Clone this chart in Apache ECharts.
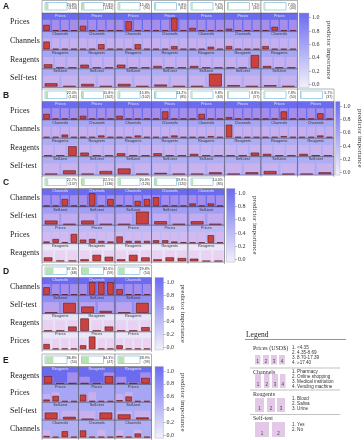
<!DOCTYPE html>
<html><head><meta charset="utf-8">
<script src="https://cdn.jsdelivr.net/npm/echarts@6/dist/echarts.min.js"></script>
<style>html,body{margin:0;padding:0;background:#fff}#c{width:364px;height:440px}</style>
</head><body><div id="c"></div>
<script>
// ================= DATA =================
const colorbarTicks = [0, 0.2, 0.4, 0.6, 0.8, 1.0];

// Panel A
const A_pct = ["24.8%","21.8%","15.4%","9.8%","9.7%","7.2%","7.0%"];
const A_n = [153,135,95,61,60,45,43];
const A_sizeFill = [0.14,0.12,0.09,0.06,0.06,0.045,0.04];
const A_rows = ["Prices","Channels","Reagents","Self-test"];
const A_importance = [1.0,0.55,0.55,0.5];
const A_overall = [[.85,.85,.85,.85],[.85,.85,.85,.85],[.85,.85,.85],[.85,.85]];
const A_prices = [[.45,.03,.03,.03],[.38,.03,.03,.03],[.03,.75,.03,.03],[.03,.03,1.0,.03],[.22,.03,.03,.03],[.15,.03,.03,.03],[.03,.3,.03,.03]];
const A_channels = [[.6,.03,.03,.03],[.03,.03,.4,.03],[.03,.03,.4,.03],[.03,.03,.25,.03],[.03,.03,.2,.03],[.25,.03,.03,.03],[.25,.03,.03,.03]];
const A_reagents = [[.28,.03,.03],[.25,.03,.03],[.25,.03,.03],[.15,.03,.03],[.15,.03,.03],[.03,.03,1.0],[.15,.03,.03]];
const A_selftest = [[.25,.03],[.2,.03],[.2,.03],[.15,.03],[.03,1.0],[.1,.03],[.1,.03]];

// Panel B
const B_pct = ["22.0%","15.8%","15.8%","13.2%","9.8%","8.8%","7.8%","5.7%"];
const B_n = [142,102,102,85,63,57,50,37];
const B_sizeFill = [0.12,0.09,0.09,0.07,0.05,0.05,0.04,0.03];
const B_rows = ["Prices","Channels","Reagents","Self-test"];
const B_importance = [1.0,0.55,0.5,0.5];
const B_overall = [[.85,.85,.85,.85],[.85,.85,.85,.85],[.85,.85,.85],[.85,.85]];
const B_prices = [[.4,.03,.03,.03],[.25,.03,.03,.03],[.25,.03,.03,.03],[.03,.6,.03,.03],[.03,.4,.03,.03],[.15,.03,.03,.03],[.03,.03,.6,.03],[.03,.03,.45,.03]];
const B_channels = [[.03,.03,.22,.03],[.03,.03,.15,.03],[.03,.03,.15,.03],[.03,.03,.15,.03],[.03,.03,.1,.03],[1.0,.03,.03,.03],[.03,.03,.1,.03],[.03,.03,.15,.03]];
const B_reagents = [[.03,.03,.75],[.25,.03,.03],[.2,.03,.03],[.2,.03,.03],[.15,.03,.03],[.03,.03,.25],[.15,.03,.03],[.15,.03,.03]];
const B_selftest = [[.03,.3],[.03,.25],[.45,.03],[.1,.03],[.03,.15],[.03,.15],[.25,.03],[.03,.15]];

// Panel C
const C_pct = ["22.7%","22.5%","20.8%","19.8%","14.0%"];
const C_n = [137,136,126,120,85];
const C_sizeFill = [0.13,0.13,0.12,0.11,0.08];
const C_rows = ["Channels","Self-test","Prices","Reagents"];
const C_importance = [1.0,0.6,0.4,0.05];
const C_overall = [[.85,.85,.85,.85],[.85,.85],[.85,.85,.85,.85],[.85,.85,.85]];
const C_channels = [[.03,.03,.55,.03],[.03,1.0,.03,.55],[.08,.03,.4,.55],[.7,.03,.03,.03],[.2,.03,.2,.03]];
const C_selftest = [[.3,.03],[.3,.03],[.03,1.0],[.25,.03],[.25,.03]];
const C_prices = [[.1,.3,.05,.7],[.25,.3,.15,.1],[.5,.15,.15,.15],[.2,.2,.1,.05],[.03,.03,.6,.03]];
const C_reagents = [[.3,.05,.05],[.15,.5,.35],[.15,.5,.3],[.15,.3,.25],[.2,.03,.03]];

// Panel D
const D_pct = ["37.6%","32.6%","29.8%"];
const D_n = [68,59,54];
const D_sizeFill = [0.38,0.33,0.3];
const D_rows = ["Channels","Self-test","Reagents","Prices"];
const D_importance = [1.0,0.72,0.08,0.05];
const D_overall = [[.85,.85,.85,.85],[.85,.85],[.85,.85,.85],[.85,.85,.85,.85]];
const D_channels = [[.6,.03,.03,.03],[.03,1.0,1.0,1.0],[.45,.03,.03,.03]];
const D_selftest = [[.03,.8],[.5,.15],[.03,.8]];
const D_reagents = [[.03,.03,.35],[1.0,.03,.35],[.03,.03,.3]];
const D_prices = [[.4,.03,.03,.03],[.3,1.0,.03,.03],[.3,.03,.03,.03]];

// Panel E
const E_pct = ["36.8%","34.3%","28.9%"];
const E_n = [50,47,39];
const E_sizeFill = [0.38,0.33,0.28];
const E_rows = ["Reagents","Prices","Self-test","Channels"];
const E_importance = [1.0,0.55,0.52,0.48];
const E_overall = [[.55,.1,.9],[.6,.75,.1,.1],[.7,.7],[.55,.1,.6,.1]];
const E_reagents = [[.6,.03,.03],[.03,.03,.6],[.03,.03,.45]];
const E_prices = [[.15,.45,.03,.03],[.55,.03,.03,.03],[.1,.4,.03,.03]];
const E_selftest = [[.55,.2],[.03,.55],[.4,.15]];
const E_channels = [[.1,.03,.5,.03],[.55,.03,.03,.03],[.1,.03,.3,.03]];

// Legend
const legendSections = ["Prices (USD$)","Channels","Reagents","Self-test"];
const legendPrices = ["1. <4.35","2. 4.35-8.69","3. 8.70-17.39","4. \u226517.40"];
const legendChannels = ["1. Pharmacy","2. Online shopping","3. Medical institution","4. Vending machine"];
const legendReagents = ["1. Blood","2. Saliva","3. Urine"];
const legendSelftest = ["1. Yes","2. No"];

// ================= LAYOUT / BUILD =================
const panels = [
  {letter:'A', pct:A_pct, n:A_n, fill:A_sizeFill, rows:A_rows, imp:A_importance, overall:A_overall, vals:[A_prices,A_channels,A_reagents,A_selftest]},
  {letter:'B', pct:B_pct, n:B_n, fill:B_sizeFill, rows:B_rows, imp:B_importance, overall:B_overall, vals:[B_prices,B_channels,B_reagents,B_selftest]},
  {letter:'C', pct:C_pct, n:C_n, fill:C_sizeFill, rows:C_rows, imp:C_importance, overall:C_overall, vals:[C_channels,C_selftest,C_prices,C_reagents]},
  {letter:'D', pct:D_pct, n:D_n, fill:D_sizeFill, rows:D_rows, imp:D_importance, overall:D_overall, vals:[D_channels,D_selftest,D_reagents,D_prices]},
  {letter:'E', pct:E_pct, n:E_n, fill:E_sizeFill, rows:E_rows, imp:E_importance, overall:E_overall, vals:[E_reagents,E_prices,E_selftest,E_channels]}
];
const geom = {
  A:{rTop:13, rH:18.6, cbX:299, cbW:10},
  B:{rTop:101.5, rH:18.4, cbX:335.5, cbW:9},
  C:{rTop:188.5, rH:18.4, cbX:226.5, cbW:8.5},
  D:{rTop:277.5, rH:18.1, cbX:155, cbW:8.5},
  E:{rTop:366.5, rH:17.9, cbX:155, cbW:8.5}
};
const X0 = 42, COLW = 36.5;

function impColor(t){
  const a=[241,238,249], b=[107,107,239];
  return 'rgb('+a.map((v,i)=>Math.round(v+(b[i]-v)*t)).join(',')+')';
}

const option = {animation:false, grid:[], xAxis:[], yAxis:[], series:[], graphic:{elements:[]}};
const G = option.graphic.elements;
function txt(x,y,text,size,o){
  o=o||{};
  G.push({type:'text', x:x, y:y, z:o.z||50, silent:true, style:{text:text, fontSize:size,
    fontFamily:o.family||'Liberation Sans', fontWeight:o.weight||'normal', fill:o.fill||'#222',
    align:o.align||'left', verticalAlign:o.va||'middle', textAlign:o.align||'left', textVerticalAlign:o.va||'middle'}});
}
function rect(x,y,w,h,fill,stroke,lw,z){
  G.push({type:'rect', z:z||10, silent:true, shape:{x:x,y:y,width:w,height:h}, style:{fill:fill, stroke:stroke||null, lineWidth:lw||0}});
}
function line(x1,y1,x2,y2,stroke,lw,z){
  G.push({type:'line', z:z||10, silent:true, shape:{x1:x1,y1:y1,x2:x2,y2:y2}, style:{stroke:stroke, lineWidth:lw||0.6}});
}

function addCell(left, top, w, h, bg, overall, vals){
  const gi = option.grid.length;
  option.grid.push({left:left, top:top, width:w, height:h, show:true, backgroundColor:bg, borderColor:'#55556a', borderWidth:0.6});
  const cats = overall.map((_,i)=>String(i+1));
  const xi = option.xAxis.length;
  option.xAxis.push({type:'category', gridIndex:gi, data:cats, show:false});
  option.xAxis.push({type:'category', gridIndex:gi, data:cats, show:false});
  const yi = option.yAxis.length;
  option.yAxis.push({type:'value', gridIndex:gi, min:-0.07, max:1.38, show:false, splitLine:{show:false}});
  option.series.push({type:'bar', xAxisIndex:xi, yAxisIndex:yi, data:overall, barWidth:'86%', silent:true,
    itemStyle:{color:'rgba(236,186,232,0.45)'}});
  option.series.push({type:'bar', xAxisIndex:xi+1, yAxisIndex:yi, data:vals, barWidth:'70%', silent:true,
    itemStyle:{color:'#c9423f', borderColor:'#5e1616', borderWidth:0.6}});
}

panels.forEach(p=>{
  const g = geom[p.letter];
  const ncol = p.pct.length;
  const hTop = g.rTop - 12.5;
  txt(3, hTop+6.5, p.letter, 8.5, {weight:'bold', family:'Liberation Sans'});
  for(let c=0;c<ncol;c++){
    const cx = X0 + c*COLW;
    rect(cx, hTop, COLW, 12.5, '#ffffff', '#666', 0.5, 5);
    rect(cx+3, hTop+2, 22, 7.5, '#ffffff', '#8ec5e0', 0.8, 11);
    rect(cx+3.5, hTop+2.5, 21*p.fill[c], 6.5, '#b9e2b3', null, 0, 12);
    txt(cx+35, hTop+4, p.pct[c], 3.6, {align:'right', fill:'#333'});
    txt(cx+35, hTop+7.8, '('+p.n[c]+')', 3.6, {align:'right', fill:'#333'});
  }
  p.rows.forEach((rname, r)=>{
    const top = g.rTop + r*g.rH;
    txt(10, top + g.rH/2, rname, 8, {family:'Liberation Serif', fill:'#222'});
    const bg = impColor(p.imp[r]);
    for(let c=0;c<ncol;c++){
      const cx = X0 + c*COLW;
      addCell(cx, top, COLW, g.rH, bg, p.overall[r], p.vals[r][c]);
      txt(cx+COLW/2, top+2.6, rname, 3.8, {align:'center', fill: p.imp[r]>0.8 ? '#e6e6ff' : '#333', z:60});
    }
  });
  const bottom = g.rTop + 4*g.rH;
  for(let c=0;c<=ncol;c++) line(X0+c*COLW, bottom, X0+c*COLW, bottom+2, '#666', 0.5);
  const gi = option.grid.length;
  option.grid.push({left:g.cbX, top:g.rTop, width:g.cbW, height:4*g.rH, show:true,
    backgroundColor:{type:'linear', x:0, y:0, x2:0, y2:1, colorStops:[{offset:0,color:'#6b6bef'},{offset:1,color:'#f3f1fa'}]},
    borderColor:'#b0b0c8', borderWidth:0.5});
  option.xAxis.push({type:'category', gridIndex:gi, data:['x'], show:false});
  option.yAxis.push({type:'value', gridIndex:gi, min:-0.04, max:1.07, position:'right',
    axisLine:{show:false}, splitLine:{show:false},
    axisTick:{show:true, length:2, customValues:colorbarTicks, lineStyle:{color:'#777', width:0.5}},
    axisLabel:{customValues:colorbarTicks, formatter:v=>v.toFixed(1), fontSize:6, fontFamily:'Liberation Serif', color:'#333', margin:3},
    name:'predictor importance', nameLocation:'middle', nameRotate:-90, nameGap:16,
    nameTextStyle:{fontSize:7, fontFamily:'Liberation Serif', color:'#333'}});
});

// ================= LEGEND =================
txt(246, 335.5, 'Legend', 7.5, {family:'Liberation Serif', fill:'#222'});
line(245, 339.5, 346, 339.5, '#777', 0.8);
const legendBlocks = [
  {title:legendSections[0], items:legendPrices, titleY:348, itemY0:348, step:5, boxes:[[255,5.5],[263,6],[271,6],[279,6]], boxY:355, boxH:9.5, lineY:368},
  {title:legendSections[1], items:legendChannels, titleY:372, itemY0:372, step:5, boxes:[[255,6],[264,5.5],[272,6],[280,5.5]], boxY:374, boxH:14, lineY:390},
  {title:legendSections[2], items:legendReagents, titleY:394, itemY0:399, step:5, boxes:[[255,9],[267,8],[277,8]], boxY:398, boxH:14, lineY:414.5},
  {title:legendSections[3], items:legendSelftest, titleY:418.5, itemY0:425, step:5, boxes:[[255,14],[272,13]], boxY:422, boxH:15, lineY:null}
];
legendBlocks.forEach(b=>{
  txt(253, b.titleY, b.title, 6, {family:'Liberation Serif', fill:'#333'});
  b.items.forEach((it,i)=>txt(292, b.itemY0 + i*b.step, it, 4.6, {fill:'#333'}));
  b.boxes.forEach((bx,i)=>{
    rect(bx[0], b.boxY, bx[1], b.boxH, '#e3c9e7', null, 0, 10);
    txt(bx[0]+bx[1]/2, b.boxY + b.boxH - 3, String(i+1), 4.5, {align:'center', fill:'#444'});
  });
  if(b.lineY) line(250, b.lineY, 340, b.lineY, '#999', 0.6);
});

const chart = echarts.init(document.getElementById('c'), null, {renderer:'canvas'});
chart.setOption(option);
</script>
</body></html>
